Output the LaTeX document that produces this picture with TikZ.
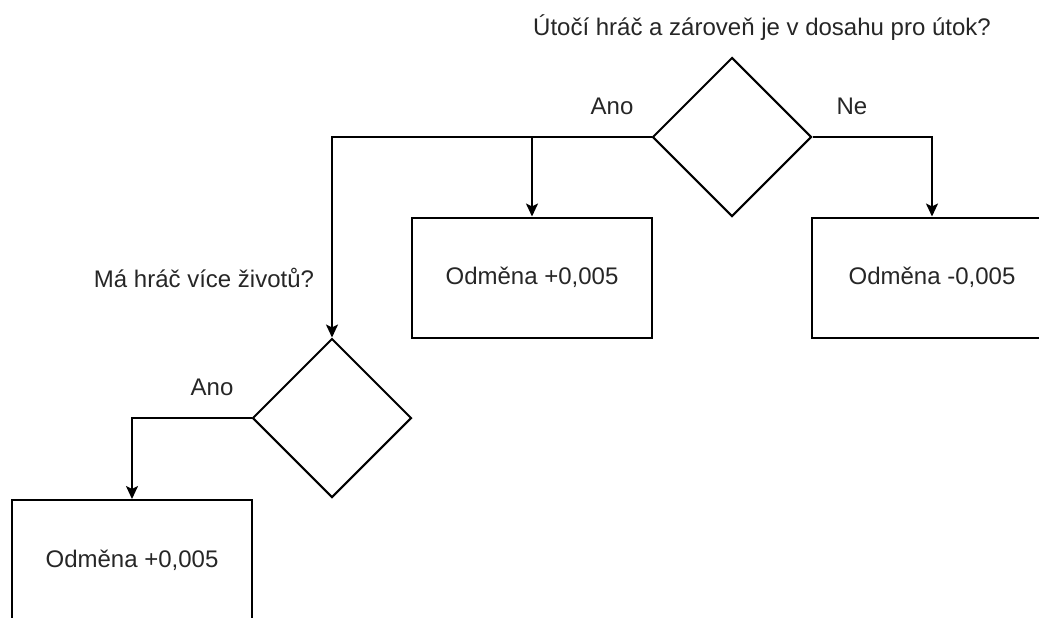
\documentclass[tikz,border=0pt]{standalone}
\usepackage{fontspec}
\setmainfont{Liberation Sans}
\usetikzlibrary{shapes.geometric, arrows.meta}
\tikzstyle{decision}=[diamond, draw, line width=1pt, aspect=1, inner sep=0pt, minimum width=79.5pt, minimum height=79.5pt]
\tikzstyle{reward}=[rectangle, draw, line width=1pt, minimum width=120pt, minimum height=60pt, font=\fontsize{12}{14}\selectfont, text=black!85]
\tikzstyle{caption}=[font=\fontsize{12}{14}\selectfont, text=black!85]
\tikzstyle{flow}=[line width=1pt, -{Stealth[length=6.5pt, width=6pt, inset=1.5pt]}]

\begin{document}
\begin{tikzpicture}[x=0.5pt, y=-0.5pt]
    \path[use as bounding box, clip] (0,0) rectangle (1039,617);
% Decisions
    \node[decision] (attack) at (732,137) {};
    \node[decision] (lives) at (332,418) {};
% Rewards
    \node[reward] (plus) at (532,277.5) {Odměna +0,005};
    \node[reward] (minus) at (932,277.5) {Odměna -0,005};
    \node[reward] (plustwo) at (132,560) {Odměna +0,005};
% Questions and branch labels
    \node[caption] (qattack) at (762,28) {Útočí hráč a zároveň je v dosahu pro útok?};
    \node[caption] (qlives) at (204,278) {Má hráč více životů?};
    \node[caption] (yesone) at (612,106) {Ano};
    \node[caption] (noone) at (852,106) {Ne};
    \node[caption] (yestwo) at (212,387) {Ano};
% Connections
    \draw[flow] (attack.west) -| (lives.north);
    \draw[flow] (attack.west) -| (plus.north);
    \draw[flow] (attack.east) -| (minus.north);
    \draw[flow] (lives.west) -| (plustwo.north);
\end{tikzpicture}
\end{document}
